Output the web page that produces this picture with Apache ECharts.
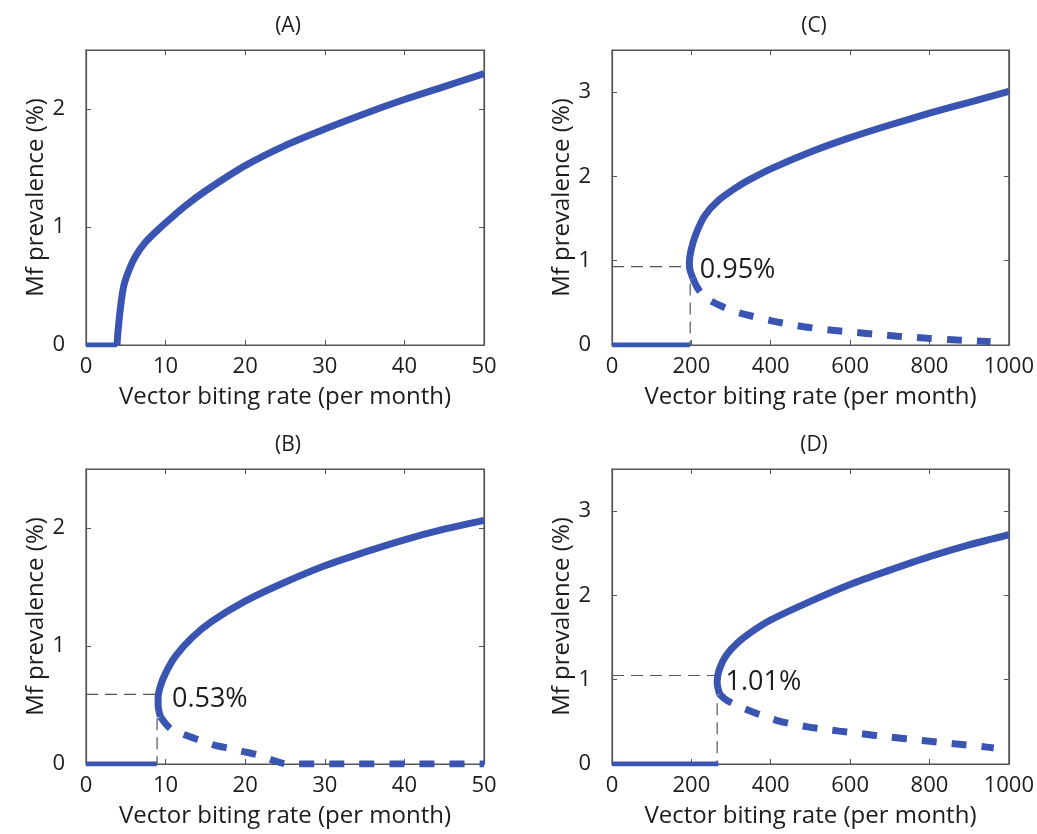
<!DOCTYPE html>
<html>
<head>
<meta charset="utf-8">
<title>Mf prevalence vs vector biting rate</title>
<script src="https://cdn.jsdelivr.net/npm/echarts@6/dist/echarts.min.js"></script>
<style>
  html, body { margin: 0; padding: 0; background: #fff; }
  #chart { width: 1037px; height: 834px; }
</style>
</head>
<body>
<div id="chart"></div>
<script>
// panel titles (A) (C) top row, (B) (D) bottom row
const panelNames = ["(A)", "(C)", "(B)", "(D)"];

// axis ranges / ticks
const xMaxes = [50, 1000, 50, 1000];
const xSteps = [10, 200, 10, 200];
const yMaxes = [2.5, 3.5, 2.5, 3.5];

// zero (disease-free) branch, [x, y]
const zeroA = [[0, 0], [3.9, 0]];
const zeroC = [[0, 0], [196, 0]];
const zeroB = [[0, 0], [8.9, 0]];
const zeroD = [[0, 0], [268, 0]];

// stable endemic branch
const stableA = [[3.9, 0], [4.0, 0.1], [4.3, 0.3], [4.74, 0.5], [5.37, 0.63], [6.2, 0.75],
  [7.46, 0.87], [9.1, 0.98], [10, 1.035], [12.5, 1.18], [15, 1.305], [20, 1.52], [25, 1.69],
  [30, 1.83], [35, 1.96], [40, 2.08], [45, 2.19], [50, 2.3]];
const stableC = [[204, 0.79], [196, 0.9], [195, 0.98], [199, 1.12], [210, 1.3], [233, 1.53],
  [267, 1.71], [317, 1.88], [350, 1.97], [400, 2.09], [500, 2.29], [600, 2.46], [700, 2.61],
  [800, 2.75], [900, 2.88], [1000, 3.01]];
const stableB = [[9.35, 0.4], [9.06, 0.5], [9.06, 0.56], [9.35, 0.66], [10, 0.77],
  [11.2, 0.91], [13.3, 1.07], [15.85, 1.21], [20, 1.38], [25, 1.54], [30, 1.68],
  [35, 1.795], [40, 1.9], [45, 1.99], [50, 2.065]];
const stableD = [[271, 0.83], [266, 0.92], [265, 0.98], [271, 1.13], [288, 1.29], [317, 1.44],
  [359, 1.59], [400, 1.71], [500, 1.93], [600, 2.13], [700, 2.3], [800, 2.46], [900, 2.6],
  [1000, 2.72]];

// unstable branch (dashed)
const unstableC = [[204, 0.79], [215, 0.68], [230, 0.59], [250, 0.52], [296, 0.42],
  [330, 0.37], [400, 0.29], [480, 0.22], [556, 0.175], [635, 0.14], [719, 0.105],
  [795, 0.08], [870, 0.06], [954, 0.04]];
const unstableB = [[9.35, 0.4], [10.6, 0.3], [12.3, 0.25], [14.4, 0.2], [16.1, 0.16],
  [18.2, 0.13], [19.8, 0.105], [21.9, 0.072], [23.4, 0.034], [24.8, 0.005], [26, 0], [50, 0]];
const unstableD = [[271, 0.83], [285, 0.77], [308, 0.71], [342, 0.64], [384, 0.565],
  [421, 0.51], [459, 0.47], [493, 0.44], [539, 0.41], [573, 0.39], [618, 0.365],
  [698, 0.32], [782, 0.28], [862, 0.24], [945, 0.2], [962, 0.19]];

// breakpoint guide lines: [x of threshold, y of threshold]
const guideC = [197, 0.93];
const guideB = [8.93, 0.59];
const guideD = [265, 1.05];

// threshold labels and where they sit (data coords, left edge)
const labelTexts = ["0.95%", "0.53%", "1.01%"];
const labelAt = [[221, 0.89], [10.8, 0.545], [286, 0.97]];

const BLUE = "#3a54b2";
const AXIS = "#555";
const INK = "#1c1c1c";
const FONT = "'Open Sans', sans-serif";

// grid boxes in px: A, C, B, D
const boxes = [
  { left: 86, top: 50 },
  { left: 612, top: 50 },
  { left: 86, top: 469 },
  { left: 612, top: 469 },
];

const panels = [
  { zero: zeroA, stable: stableA },
  { zero: zeroC, stable: stableC, unstable: unstableC, guide: guideC, text: 0 },
  { zero: zeroB, stable: stableB, unstable: unstableB, guide: guideB, text: 1 },
  { zero: zeroD, stable: stableD, unstable: unstableD, guide: guideD, text: 2 },
];

const chart = echarts.init(document.getElementById("chart"));

const grid = [];
const xAxis = [];
const yAxis = [];
const series = [];
const title = [];

// every side of the box is an axis line with inward ticks
const frameAxis = (extra) => ({
  type: "value",
  min: 0,
  axisLine: { show: true, onZero: false, lineStyle: { color: AXIS, width: 1.2 } },
  axisTick: { show: true, inside: true, length: 5, lineStyle: { color: AXIS } },
  splitLine: { show: false },
  ...extra,
});

panels.forEach((p, i) => {
  const b = boxes[i];
  grid.push({
    left: b.left, top: b.top, width: 398, height: 295,
    show: true, borderColor: AXIS, borderWidth: 1.2, backgroundColor: "transparent",
  });
  title.push({
    text: panelNames[i],
    left: b.left + 197,
    top: b.top - 39,
    textAlign: "center",
    textStyle: { fontFamily: FONT, fontSize: 21, fontWeight: "normal", color: INK },
  });

  // bottom + top x axes
  xAxis.push(frameAxis({
    gridIndex: i, position: "bottom", max: xMaxes[i], interval: xSteps[i],
    name: "Vector biting rate (per month)", nameLocation: "middle", nameGap: 40,
    nameTextStyle: { fontFamily: FONT, fontSize: 24, color: INK },
    axisLabel: {
      fontFamily: FONT, fontSize: 22, color: INK, margin: 11,
      formatter: (v) => String(v),
    },
  }));
  xAxis.push(frameAxis({
    gridIndex: i, position: "top", max: xMaxes[i], interval: xSteps[i],
    axisLabel: { show: false },
  }));
  // left + right y axes
  yAxis.push(frameAxis({
    gridIndex: i, position: "left", max: yMaxes[i], interval: 1,
    name: "Mf prevalence (%)", nameLocation: "middle", nameGap: 34,
    nameTextStyle: { fontFamily: FONT, fontSize: 24, color: INK },
    axisLabel: { fontFamily: FONT, fontSize: 22, color: INK, margin: 21, showMaxLabel: false },
  }));
  yAxis.push(frameAxis({
    gridIndex: i, position: "right", max: yMaxes[i], interval: 1,
    axisLabel: { show: false },
  }));

  const xi = i * 2;
  const yi = i * 2;

  // keeps the top / right mirror axes in use so their ticks get drawn
  series.push({
    type: "line", xAxisIndex: xi + 1, yAxisIndex: yi + 1, symbol: "none", silent: true,
    data: [],
  });

  if (p.guide) {
    const [gx, gy] = p.guide;
    series.push({
      type: "line", xAxisIndex: xi, yAxisIndex: yi, symbol: "none", silent: true, z: 1,
      data: [[0, gy], [gx, gy], [gx, 0]],
      lineStyle: { color: AXIS, width: 1.2, type: [12, 7] },
    });
  }

  series.push({
    type: "line", xAxisIndex: xi, yAxisIndex: yi, symbol: "none", z: 3,
    data: p.zero,
    lineStyle: { color: BLUE, width: 5 },
  });
  series.push({
    type: "line", xAxisIndex: xi, yAxisIndex: yi, symbol: "none", z: 4, smooth: 0.3,
    data: p.stable,
    lineStyle: { color: BLUE, width: 7, cap: "butt" },
  });
  if (p.unstable) {
    series.push({
      type: "line", xAxisIndex: xi, yAxisIndex: yi, symbol: "none", z: 4, smooth: 0.3,
      data: p.unstable,
      lineStyle: { color: BLUE, width: 7, type: [15, 15], cap: "butt" },
    });
  }
  if (p.text !== undefined) {
    series.push({
      type: "scatter", xAxisIndex: xi, yAxisIndex: yi, symbolSize: 0, z: 5, silent: true,
      data: [labelAt[p.text]],
      itemStyle: { opacity: 1 },
      label: {
        show: true, position: "right", distance: 0, opacity: 1,
        formatter: labelTexts[p.text],
        fontFamily: FONT, fontSize: 27, color: INK,
      },
    });
  }
});

chart.setOption({
  animation: false,
  backgroundColor: "#fff",
  title,
  grid,
  xAxis,
  yAxis,
  series,
});
</script>
</body>
</html>
